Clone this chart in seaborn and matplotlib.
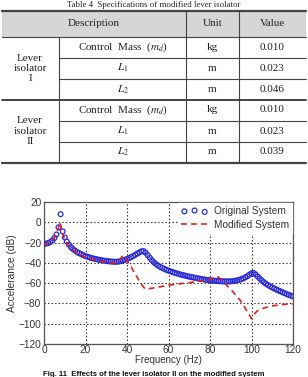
import numpy as np
import pandas as pd
import seaborn as sns
import matplotlib
matplotlib.use('Agg')
import matplotlib.pyplot as plt

# ---- table data ----
groups = ['Lever\nisolator\nI', 'Lever\nisolator\nII']
params = [r'Control  Mass  ($m_d$)', r'$L_1$', r'$L_2$']
units = ['kg', 'm', 'm']
values_1 = ['0.010', '0.023', '0.046']
values_2 = ['0.010', '0.023', '0.039']

# ---- chart data ----
freq_orig = np.arange(0, 121, 1)
acc_orig = [
    -21.5, -21, -20.5, -19.5, -18, -15.5, -12, -5, 8, -9,
    -15, -19, -22, -24.5, -26.5, -28, -29.5, -30.5, -31.5, -32.5,
    -33.3, -34, -34.7, -35.3, -35.8, -36.3, -36.7, -37.1, -37.5, -37.8,
    -38.1, -38.4, -38.6, -38.8, -38.9, -38.9, -38.7, -38.3, -37.7, -37,
    -36.2, -35.3, -34.3, -33.2, -32, -30.8, -29.6, -28.6, -28.5, -30,
    -32.5, -35, -37.5, -39.5, -41.3, -42.8, -44, -45, -46, -46.9,
    -47.7, -48.4, -49.1, -49.8, -50.4, -51, -51.6, -52.1, -52.6, -53.1,
    -53.6, -54, -54.4, -54.8, -55.2, -55.6, -56, -56.3, -56.6, -56.9,
    -57.2, -57.4, -57.6, -57.8, -58, -58.1, -58.2, -58.3, -58.3, -58.3,
    -58.2, -58, -57.7, -57.3, -56.8, -56.1, -55.3, -54.3, -53.1, -51.7,
    -50.3, -50, -51.5, -53.5, -55.5, -57.5, -59.2, -60.7, -62, -63.2,
    -64.3, -65.3, -66.3, -67.2, -68.1, -69, -69.9, -70.8, -71.6, -72.4,
    -73.2]
freq_mod = [0, 2, 4, 5, 6, 7, 7.6, 8.2, 8.8, 9.5, 10, 12, 15, 20, 25, 30, 34, 36, 37, 38,
            39, 40, 42, 44, 46, 48, 49, 55, 60, 70, 80, 82.5, 84, 90, 95, 100,
            101, 103, 106, 110, 115, 120]
acc_mod = [-22, -20.5, -17.5, -15, -11, -5, 0, -4, -10, -14, -18, -23.5, -29, -34.5, -37.5, -39.5, -40, -38.5, -35.5, -33,
           -34.5, -38, -44, -51, -58, -64, -66, -64, -62, -59.5, -56.5, -53.5, -54, -66, -78, -95,
           -91, -87, -84.5, -82.5, -81, -80.5]

df_orig = pd.DataFrame({'f': freq_orig, 'a': acc_orig})
df_mod = pd.DataFrame({'f': freq_mod, 'a': acc_mod})

sns.set_theme(style='white')
plt.rcParams['font.family'] = ['Liberation Sans', 'DejaVu Sans']
plt.rcParams['mathtext.fontset'] = 'stix'

W, H = 308, 377
fig = plt.figure(figsize=(W / 100, H / 100), dpi=100)
fig.patch.set_facecolor('white')

# overlay in pixel coordinates for the table and captions
ov = fig.add_axes([0, 0, 1, 1])
ov.set_xlim(0, W)
ov.set_ylim(H, 0)
ov.axis('off')

serif = 'Liberation Serif'
tcol = '#222222'
lc = '#444444'

# table title
ov.text(W / 2, 0.8, 'Table 4  Specifications of modified lever isolator', ha='center', va='top',
        fontsize=6.3, family=serif, color=tcol)

# header band
ov.fill_between([2, 306], 11, 37, color='#d6d6d6', lw=0)
row_y = [37, 57.5, 79, 99.5, 120.5, 141.5, 162.5]
ov.plot([2, 306], [11, 11], color=lc, lw=1.6)
ov.plot([2, 306], [37, 37], color=lc, lw=0.8)
for y in [57.5, 79, 120.5, 141.5]:
    ov.plot([59, 306], [y, y], color=lc, lw=0.8)
ov.plot([2, 306], [99.5, 99.5], color=lc, lw=1.4)
ov.plot([2, 306], [162.5, 162.5], color=lc, lw=1.6)
ov.plot([186, 186], [11, 162.5], color=lc, lw=0.8)
ov.plot([239, 239], [11, 162.5], color=lc, lw=0.8)
ov.plot([59, 59], [37, 162.5], color=lc, lw=0.8)

fs = 8
ov.text(94, 24, 'Description', ha='center', va='center', fontsize=fs, family=serif, color=tcol)
ov.text(212.5, 24, 'Unit', ha='center', va='center', fontsize=fs, family=serif, color=tcol)
ov.text(272.5, 24, 'Value', ha='center', va='center', fontsize=fs, family=serif, color=tcol)

for g, (label, vals) in enumerate(zip(groups, [values_1, values_2])):
    top = row_y[3 * g]
    bot = row_y[3 * g + 3]
    ov.text(30, (top + bot) / 2, label, ha='center', va='center', fontsize=fs,
            family=serif, color=tcol, linespacing=1.15)
    for k in range(3):
        yc = (row_y[3 * g + k] + row_y[3 * g + k + 1]) / 2
        ov.text(122.5, yc, params[k], ha='center', va='center', fontsize=fs, family=serif, color=tcol)
        ov.text(212.5, yc, units[k], ha='center', va='center', fontsize=fs, family=serif, color=tcol)
        ov.text(272.5, yc, vals[k], ha='center', va='center', fontsize=fs, family=serif, color=tcol)

# ---- chart ----
ax = fig.add_axes([44 / W, 1 - 344 / H, 249 / W, 142 / H])
ax.set_facecolor('white')
sns.scatterplot(data=df_orig, x='f', y='a', ax=ax, marker='o', s=12, facecolors='none',
                edgecolor='#2a2ad8', linewidth=0.9, label='Original System', zorder=3)
sns.lineplot(data=df_mod, x='f', y='a', ax=ax, color='#e0201c', lw=1.2,
             linestyle=(0, (3.5, 2.5)), label='Modified System', zorder=4)

ax.set_xlim(0, 120)
ax.set_ylim(-120, 20)
ax.set_xticks(np.arange(0, 121, 20))
ax.set_yticks(np.arange(-120, 21, 20))
ax.grid(True, linestyle=(0, (1.2, 2)), color='#222222', lw=0.8)
for s in ax.spines.values():
    s.set_color('#555555')
    s.set_linewidth(0.9)
ax.tick_params(axis='both', labelsize=7.3, colors='#333333', length=0, pad=2)
ax.tick_params(axis='x', pad=1)
ax.set_xlabel('Frequency (Hz)', fontsize=7, color='#333333', labelpad=0)
ax.set_ylabel('Accelerance (dB)', fontsize=7.3, color='#333333', labelpad=1)

h, l = ax.get_legend_handles_labels()
leg = ax.legend(h, l, loc='upper right', fontsize=7.3, frameon=True, fancybox=False,
                edgecolor='white', framealpha=1, borderaxespad=0.1, handlelength=2.6,
                scatterpoints=3, handletextpad=0.6, labelspacing=0.35, borderpad=0.3)
for t in leg.get_texts():
    t.set_color('#333333')

# figure caption
ov.text(W / 2, 376, 'Fig. 11  Effects of the lever isolator II on the modified system',
        ha='center', va='baseline', fontsize=5.6, fontweight='bold', color='#111111')

fig.savefig('out.png', dpi=100)
